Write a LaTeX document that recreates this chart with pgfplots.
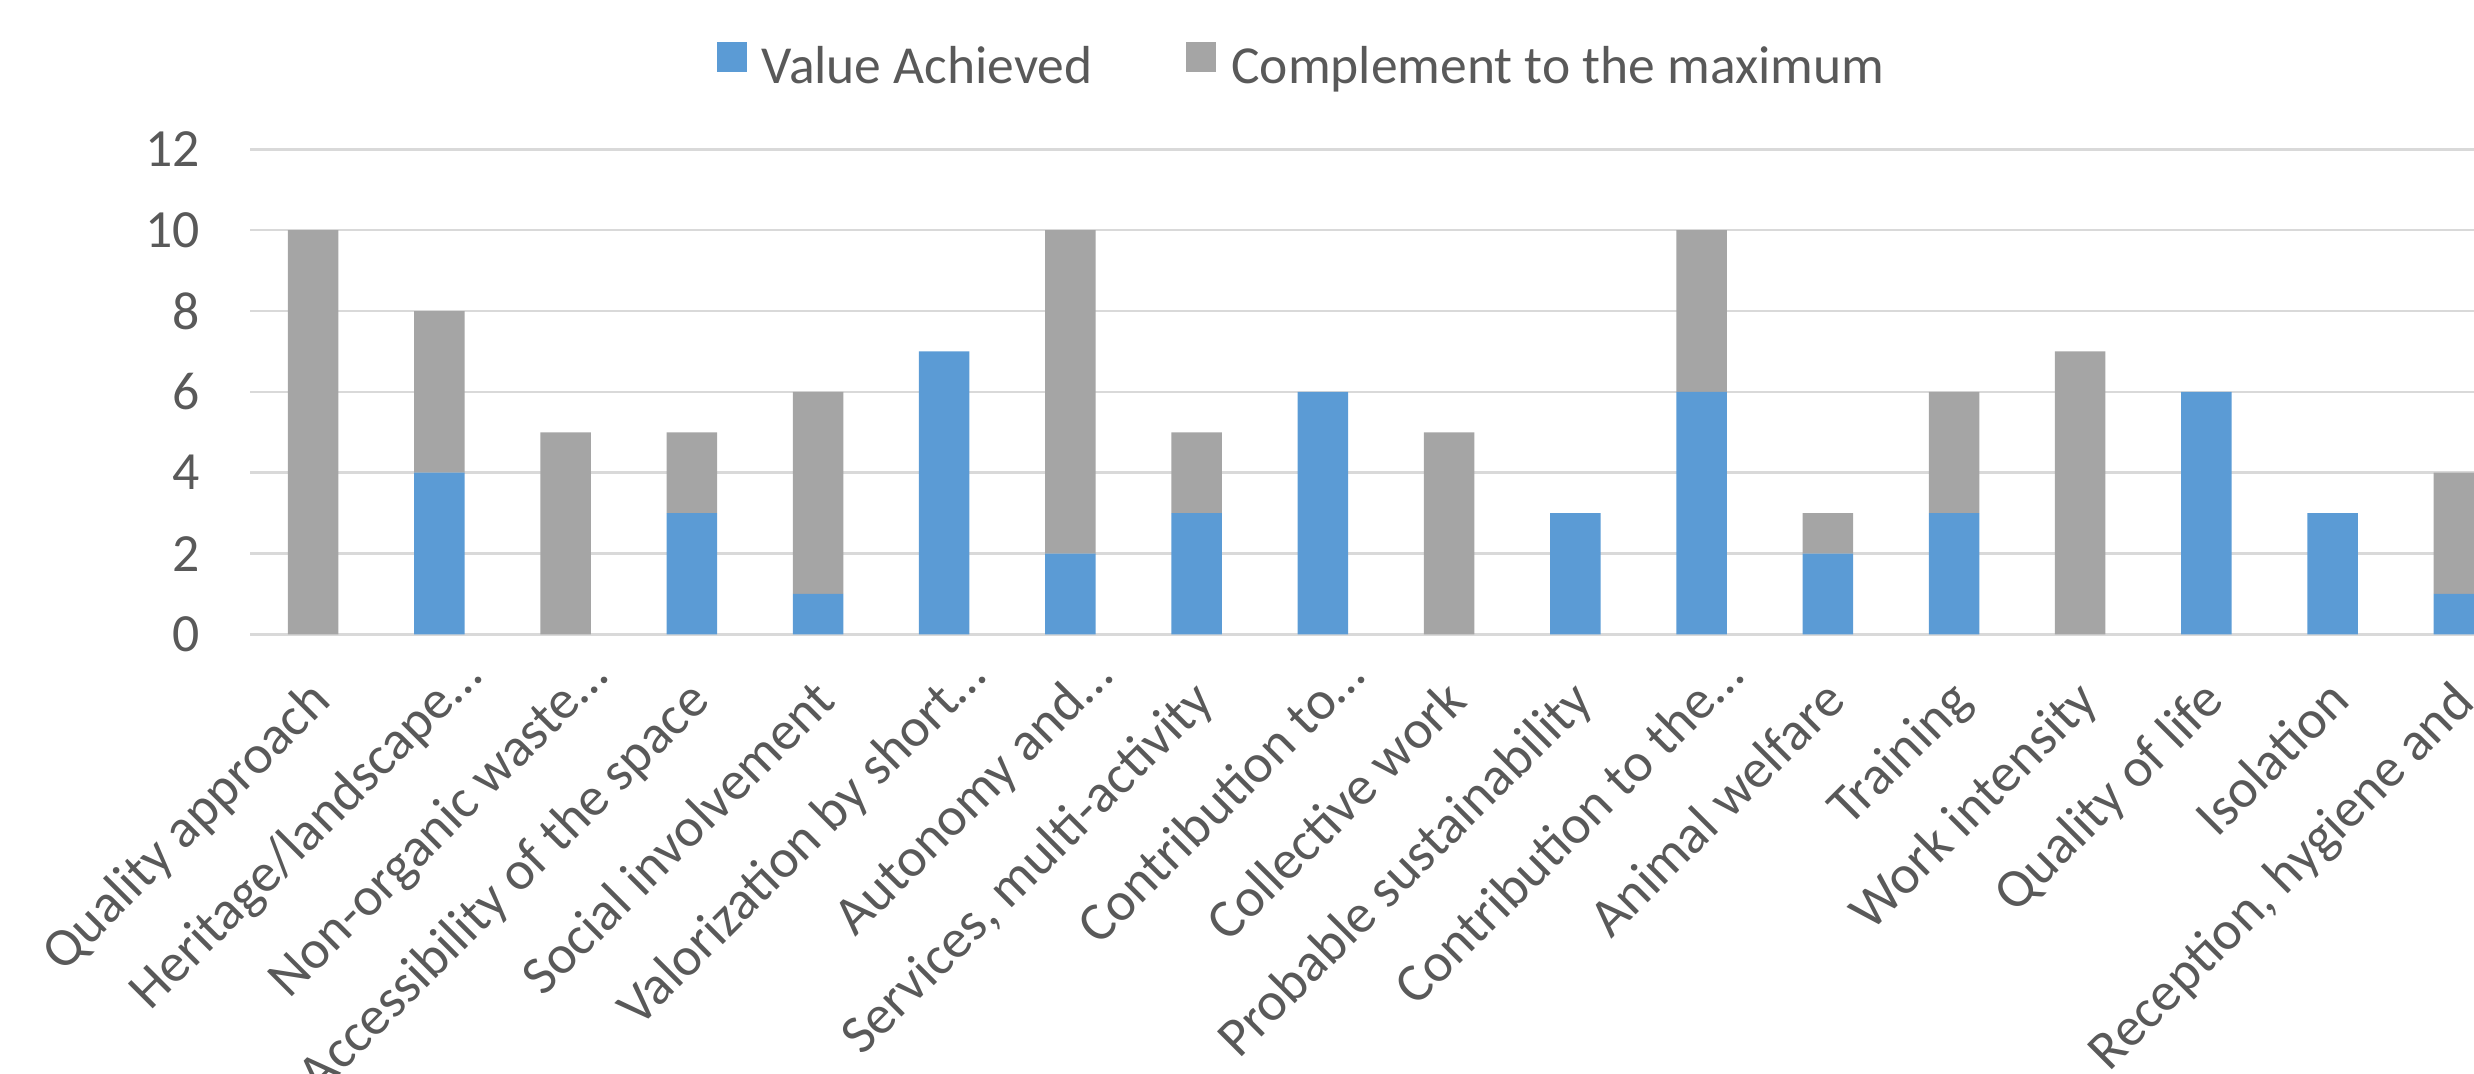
\documentclass[border=0pt]{standalone}
\usepackage{pgfplots}
\pgfplotsset{compat=1.18}
\usepackage{fontspec}
\setmainfont{Carlito}
\definecolor{cblue}{HTML}{5B9BD5}
\definecolor{cgray}{HTML}{A5A5A5}
\definecolor{cgrid}{HTML}{D9D9D9}
\definecolor{ctext}{HTML}{595959}
\pgfplotsset{sqlegend/.style={legend image code/.code={\fill[##1,draw=none] (0pt,-2pt) rectangle (12pt,10pt);}}}
\newcommand{\el}{…\hspace*{-14pt}}
\begin{document}
\begin{tikzpicture}[font=\fontsize{21.5}{25}\selectfont]
\path[use as bounding box] (0,0) rectangle (989.6pt,429.2pt);
\clip (0,0) rectangle (989.6pt,429.2pt);
\begin{axis}[
  overlay,
  at={(100pt,175.44pt)}, anchor=south west,
  scale only axis, width=889.6pt, height=194pt,
  xmin=-0.5, xmax=17.12, ymin=0, ymax=12,
  ybar stacked, bar width=20.2pt,
  ytick={0,2,4,6,8,10,12},
  xtick={0,1,...,17},
  xticklabels={Quality approach,Heritage/landscape\el,Non-organic waste\el,Accessibility of the space,Social involvement,Valorization by short\el,Autonomy and\el,{Services, multi-activity},Contribution to\el,Collective work,Probable sustainability,Contribution to the\el,Animal welfare,Training,Work intensity,Quality of life,Isolation,{Reception, hygiene and\el}},
  ymajorgrids, grid style={cgrid, line width=1pt},
  axis line style={draw=none},
  major tick length=0pt,
  tick label style={font=\fontsize{21.5}{25}\selectfont, text=ctext},
  /pgf/number format/assume math mode=true,
  yticklabel style={anchor=east, inner sep=0pt, xshift=-20pt},
  xticklabel style={font=\fontsize{21.9}{25}\selectfont, inner sep=0pt, xshift=8pt, yshift=-27.5pt, rotate=45, anchor=base east},
  legend columns=2,
  legend style={at={(0.4723,1.174)}, anchor=center, draw=none, fill=none,
    font=\fontsize{21.4}{25}\selectfont, text=ctext,
    nodes={inner sep=0pt},
    /tikz/every odd column/.append style={column sep=6pt},
    /tikz/every even column/.append style={column sep=37.6pt}},
]
\addplot[fill=cblue, draw=none, sqlegend] coordinates {(0,0) (1,4) (2,0) (3,3) (4,1) (5,7) (6,2) (7,3) (8,6) (9,0) (10,3) (11,6) (12,2) (13,3) (14,0) (15,6) (16,3) (17,1)};
\addplot[fill=cgray, draw=none, sqlegend] coordinates {(0,10) (1,4) (2,5) (3,2) (4,5) (5,0) (6,8) (7,2) (8,0) (9,5) (10,0) (11,4) (12,1) (13,3) (14,7) (15,0) (16,0) (17,3)};
\legend{Value Achieved, Complement to the maximum}
\end{axis}
\end{tikzpicture}
\end{document}
